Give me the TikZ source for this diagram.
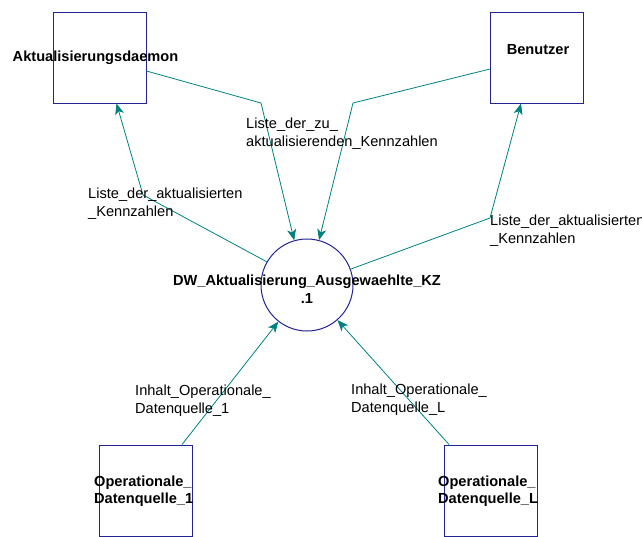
\documentclass[tikz,border=0pt]{standalone}
\usepackage{fontspec}
\setmainfont{Liberation Sans}
\usetikzlibrary{arrows.meta,positioning,calc}
\definecolor{boxblue}{RGB}{35,35,145}
\definecolor{flowteal}{RGB}{0,128,128}

\begin{document}
\begin{tikzpicture}[x=1pt, y=-1pt,
        ext/.style={rectangle, draw=boxblue, line width=1pt, minimum width=93pt, minimum height=91pt, inner sep=0pt},
        proc/.style={circle, draw=boxblue, line width=1pt, minimum size=92pt, inner sep=0pt},
        extname/.style={font=\fontsize{14.6}{17.5}\selectfont\bfseries, align=center, inner sep=0pt},
        flowlbl/.style={font=\fontsize{14.6}{17.5}\selectfont, align=left, anchor=north west, inner sep=0pt},
        flow/.style={draw=flowteal, line width=0.8pt, -{Stealth[length=11pt,width=9pt,inset=3pt,fill=flowteal]}}]

        \useasboundingbox (0,0) rectangle (642,536);
        \clip (0,0) rectangle (642,536);

        % external entities and process
        \node[ext] (daemon) at (99.5,57.5) {};
        \node[ext] (user) at (537,57.5) {};
        \node[proc] (dwproc) at (307,285) {};
        \node[ext] (opq1) at (146,490.5) {};
        \node[ext] (opqL) at (491,490.5) {};

        \node[extname] (daemonname) at (95.5,57.5) {Aktualisierungsdaemon};
        \node[extname] (username) at (538,50) {Benutzer};
        \node[extname] (dwprocname) at (307,289) {DW\_Aktualisierung\_Ausgewaehlte\_KZ\\.1};
        \node[extname, align=left, anchor=west] (opq1name) at (94,491) {Operationale\_\\Datenquelle\_1};
        \node[extname, align=left, anchor=west] (opqLname) at (438,491) {Operationale\_\\Datenquelle\_L};

        % bends of the flows
        \coordinate (bend1) at (261,103);
        \coordinate (bend2) at (353,103);
        \coordinate (bend3) at (143,195);
        \coordinate (bend4) at (490,218);

        % data flows
        \draw[flow] ([yshift=-13.5pt]daemon.east) -- (bend1) -- (dwproc.106);
        \draw[flow] ([yshift=-11.5pt]user.west) -- (bend2) -- (dwproc.75);
        \draw[flow] (dwproc.150) -- (bend3) -- ([xshift=17pt]daemon.south);
        \draw[flow] (dwproc.20) -- (bend4) -- ([xshift=-16pt]user.south);
        \draw[flow] ([xshift=36pt]opq1.north) -- (dwproc.232);
        \draw[flow] ([xshift=-42pt]opqL.north) -- (dwproc.311);

        % flow labels
        \node[flowlbl] (lblzu) at (246,118) {Liste\_der\_zu\_\\aktualisierenden\_Kennzahlen};
        \node[flowlbl] (lblakt1) at (88,188) {Liste\_der\_aktualisierten\\\_Kennzahlen};
        \node[flowlbl] (lblakt2) at (490,215) {Liste\_der\_aktualisierten\\\_Kennzahlen};
        \node[flowlbl] (lblin1) at (135,385) {Inhalt\_Operationale\_\\Datenquelle\_1};
        \node[flowlbl] (lblinL) at (351,384) {Inhalt\_Operationale\_\\Datenquelle\_L};

\end{tikzpicture}
\end{document}
